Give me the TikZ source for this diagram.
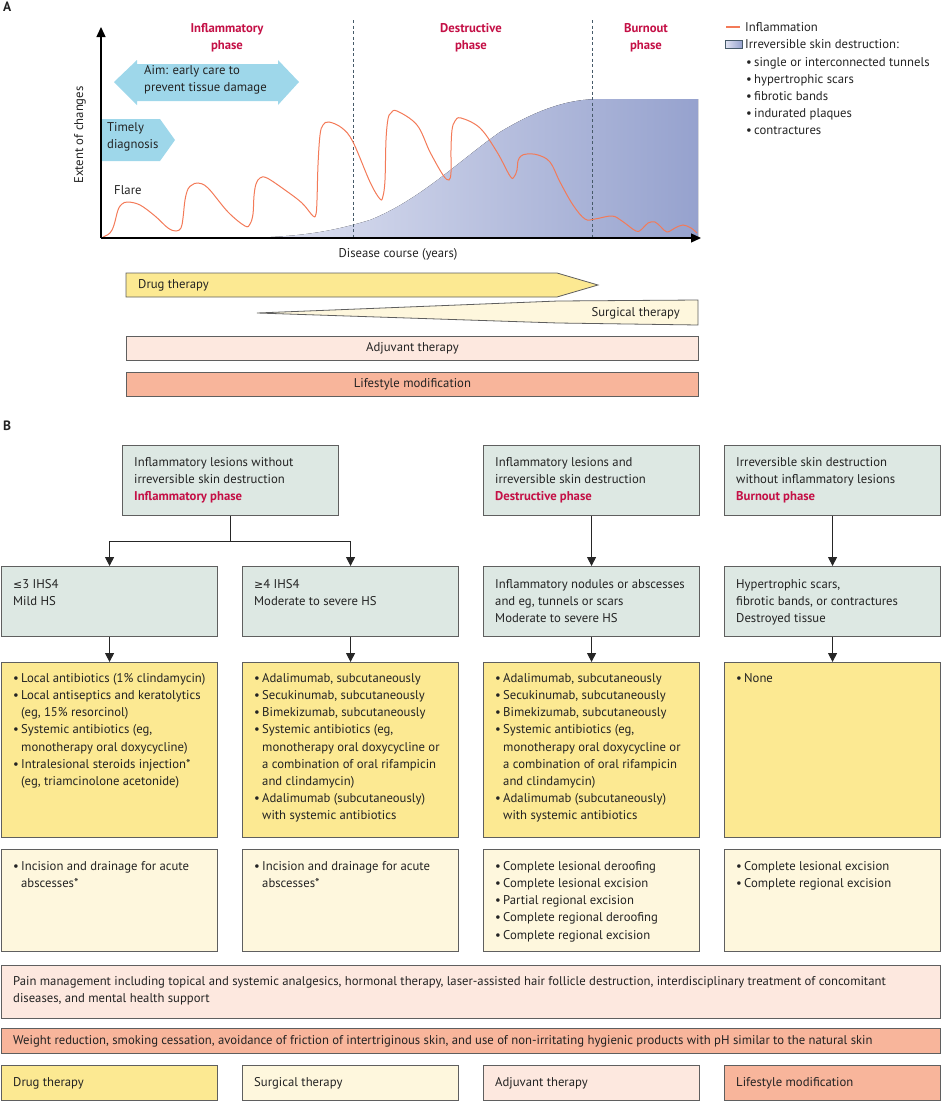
\documentclass[tikz,border=0pt]{standalone}
\usepackage{fontspec}
\setmainfont{PT Sans}
\newfontfamily\symf{DejaVu Sans}
\usetikzlibrary{arrows.meta,calc}
\definecolor{drugc}{RGB}{252,233,146}
\definecolor{surgc}{RGB}{254,247,221}
\definecolor{adjc}{RGB}{253,232,223}
\definecolor{lifec}{RGB}{248,181,155}
\definecolor{greenc}{RGB}{221,232,227}
\definecolor{bordc}{RGB}{95,95,95}
\definecolor{bluec}{RGB}{158,215,234}
\definecolor{orangec}{RGB}{243,122,88}
\definecolor{crim}{RGB}{196,16,70}
\definecolor{dashc}{RGB}{70,90,105}
\definecolor{shadeL}{RGB}{226,229,243}
\definecolor{shadeR}{RGB}{150,162,206}
\definecolor{txtc}{RGB}{35,35,35}
\newcommand{\bi}{\makebox[8pt][l]{\textbullet}}
\newcommand{\bc}{\hspace*{8pt}}
\newcommand{\ph}[1]{\textcolor{crim}{\textbf{#1}}}
\newcommand{\lesym}{{\symf\fontsize{11}{17.2}\selectfont ≤}}
\newcommand{\gesym}{{\symf\fontsize{11}{17.2}\selectfont ≥}}
\begin{document}
\begin{tikzpicture}[x=1pt,y=-1pt,
  font=\fontsize{12.7}{17.2}\selectfont,
  every node/.style={text=txtc},
  box/.style={draw=bordc, line width=1.1pt, anchor=north west, inner sep=0pt, minimum width=216pt},
  gbox/.style={box, fill=greenc, minimum height=70pt},
  dbox/.style={box, fill=drugc, minimum height=175pt},
  sbox/.style={box, fill=surgc, minimum height=102pt},
  lbox/.style={box, minimum height=35pt},
  txt/.style={anchor=north west, inner sep=0pt, align=left},
  conn/.style={line width=1pt, draw=black!85, -{Triangle[width=9pt,length=9pt]}},
  bar/.style={draw=bordc, line width=0.8pt},
  ]
\useasboundingbox (0,0) rectangle (941,1101);

% ---------------- Panel A ----------------
\node[anchor=north west, inner sep=0pt, font=\fontsize{13.5}{15}\selectfont\bfseries] (labA) at (3,2) {A};

% destruction area
\fill[left color=shadeL, right color=shadeR]
  (240,238) .. controls (300,237) and (330,232) .. (370,220)
  .. controls (420,200) and (460,160) .. (500,132)
  .. controls (540,108) and (570,99) .. (600,99) -- (698,99) -- (698,238) -- cycle;

% phase separators
\draw[dashc, line width=0.8pt, dash pattern=on 3pt off 2.5pt] (353,20) -- (353,238);
\draw[dashc, line width=0.8pt, dash pattern=on 3pt off 2.5pt] (592,20) -- (592,238);

% aim arrows
\fill[bluec] (114,82) -- (137,60) -- (137,64) -- (278,64) -- (278,60) -- (299,82) -- (278,105) -- (278,101) -- (137,101) -- (137,105) -- cycle;
\fill[bluec] (101,119) -- (160,119) -- (175,140) -- (160,161) -- (101,161) -- cycle;

% inflammation curve
\draw[orangec, line width=1pt, smooth, tension=0.6] plot coordinates {
(103,237) (110,233) (114,225) (118,210) (122,204) (128,202) (140,205) (155,216) (168,228) (176,231) (181,228) (183,218) (185,200) (188,189) (192,185) (198,183) (208,188) (228,212) (245,226) (250,224) (253,214) (254,196) (256,184) (260,178) (267,178) (285,190) (302,203) (313,216) (316,214) (317,200) (318,165) (320,135) (323,125) (329,122) (342,128) (353,142) (370,182) (380,199) (383,196) (385,180) (386,140) (388,119) (391,113) (397,111) (417,125) (430,152) (443,175) (449,180) (451,172) (451,150) (452,130) (455,121) (461,118) (480,128) (497,152) (510,176) (514,177) (517,170) (518,161) (521,156) (527,154) (538,155) (550,162) (560,182) (573,205) (585,219) (595,219) (612,216) (622,221) (636,231) (642,229) (648,223) (655,222) (661,227) (667,232) (675,228) (683,225) (691,228) (697,233)};

% axes
\coordinate (orig) at (101,238);
\coordinate (ytop) at (101,27);
\coordinate (xend) at (701,238);
\draw[line width=1.3pt, -{Triangle[width=9pt,length=10pt]}] (orig) -- (ytop);
\draw[line width=1.3pt, -{Triangle[width=9pt,length=10pt]}] (orig) -- (xend);

\node[rotate=90, inner sep=0pt] (ylab) at (80,135) {Extent of changes};
\node[inner sep=0pt] (xlab) at (398,254) {Disease course (years)};

\node[align=center, inner sep=0pt] (p1) at (227,38) {\ph{Inflammatory}\\\ph{phase}};
\node[align=center, inner sep=0pt] (p2) at (471,38) {\ph{Destructive}\\\ph{phase}};
\node[align=center, inner sep=0pt] (p3) at (646,38) {\ph{Burnout}\\\ph{phase}};

\node[txt] (aimt) at (144,65) {Aim: early care to\\prevent tissue damage};
\node[txt] (timt) at (107,122) {Timely\\diagnosis};
\node[anchor=base west, inner sep=0pt] (flare) at (114,194) {Flare};

% legend
\draw[orangec, line width=1.2pt] (726,27) -- (740,27);
\node[anchor=base west, inner sep=0pt] (lg1) at (745,31) {Inflammation};
\draw[left color=shadeL, right color=shadeR, draw=dashc, line width=0.9pt] (725,40) rectangle (742,48);
\node[anchor=base west, inner sep=0pt] (lg2) at (745,48) {Irreversible skin destruction:};
\node[txt] (lg3) at (746,57) {\bi single or interconnected tunnels\\\bi hypertrophic scars\\\bi fibrotic bands\\\bi indurated plaques\\\bi contractures};

% therapy bars
\draw[bar, fill=drugc] (126,273) -- (557,273) -- (598,285) -- (557,297) -- (126,297) -- cycle;
\node[anchor=west, inner sep=0pt] (bdrug) at (138,285) {Drug therapy};
\draw[bar, fill=surgc] (257,313) -- (558,301) -- (698,300) -- (698,325) -- (558,323) -- cycle;
\node[anchor=east, inner sep=0pt] (bsurg) at (680,313) {Surgical therapy};
\node[draw=bordc, line width=0.8pt, fill=adjc, anchor=north west, minimum width=572pt, minimum height=24pt, inner sep=0pt] (badj) at (126,336) {Adjuvant therapy};
\node[draw=bordc, line width=0.8pt, fill=lifec, anchor=north west, minimum width=572pt, minimum height=24pt, inner sep=0pt] (blife) at (126,372) {Lifestyle modification};

% ---------------- Panel B ----------------
\node[anchor=north west, inner sep=0pt, font=\fontsize{13.5}{15}\selectfont\bfseries] (labB) at (3,421) {B};

\node[gbox] (b1) at (122,445) {};
\node[gbox] (b2) at (483,445) {};
\node[gbox] (b3) at (724,445) {};
\node[txt] (b1t) at ($(b1.north west)+(12,12)$) {Inflammatory lesions without\\irreversible skin destruction\\\ph{Inflammatory phase}};
\node[txt] (b2t) at ($(b2.north west)+(12,12)$) {Inflammatory lesions and\\irreversible skin destruction\\\ph{Destructive phase}};
\node[txt] (b3t) at ($(b3.north west)+(12,12)$) {Irreversible skin destruction\\without inflammatory lesions\\\ph{Burnout phase}};

\node[gbox] (l2a) at (1,566) {};
\node[gbox] (l2b) at (242,566) {};
\node[gbox] (l2c) at (483,566) {};
\node[gbox] (l2d) at (724,566) {};
\node[txt] (l2at) at ($(l2a.north west)+(12,13)$) {\lesym3 IHS4\\Mild HS};
\node[txt] (l2bt) at ($(l2b.north west)+(12,13)$) {\gesym4 IHS4\\Moderate to severe HS};
\node[txt] (l2ct) at ($(l2c.north west)+(12,13)$) {Inflammatory nodules or abscesses\\and eg, tunnels or scars\\Moderate to severe HS};
\node[txt] (l2dt) at ($(l2d.north west)+(12,13)$) {Hypertrophic scars,\\fibrotic bands, or contractures\\Destroyed tissue};

\node[dbox] (l3a) at (1,662) {};
\node[dbox] (l3b) at (242,662) {};
\node[dbox] (l3c) at (483,662) {};
\node[dbox] (l3d) at (724,662) {};
\node[txt] (l3at) at ($(l3a.north west)+(12,11)$) {\bi Local antibiotics (1\% clindamycin)\\\bi Local antiseptics and keratolytics\\\bc (eg, 15\% resorcinol)\\\bi Systemic antibiotics (eg,\\\bc monotherapy oral doxycycline)\\\bi Intralesional steroids injection*\\\bc (eg, triamcinolone acetonide)};
\node[txt] (l3bt) at ($(l3b.north west)+(12,11)$) {\bi Adalimumab, subcutaneously\\\bi Secukinumab, subcutaneously\\\bi Bimekizumab, subcutaneously\\\bi Systemic antibiotics (eg,\\\bc monotherapy oral doxycycline or\\\bc a combination of oral rifampicin\\\bc and clindamycin)\\\bi Adalimumab (subcutaneously)\\\bc with systemic antibiotics};
\node[txt] (l3ct) at ($(l3c.north west)+(12,11)$) {\bi Adalimumab, subcutaneously\\\bi Secukinumab, subcutaneously\\\bi Bimekizumab, subcutaneously\\\bi Systemic antibiotics (eg,\\\bc monotherapy oral doxycycline or\\\bc a combination of oral rifampicin\\\bc and clindamycin)\\\bi Adalimumab (subcutaneously)\\\bc with systemic antibiotics};
\node[txt] (l3dt) at ($(l3d.north west)+(12,11)$) {\bi None};

\node[sbox] (l4a) at (1,849) {};
\node[sbox] (l4b) at (242,849) {};
\node[sbox] (l4c) at (483,849) {};
\node[sbox] (l4d) at (724,849) {};
\node[txt] (l4at) at ($(l4a.north west)+(12,12)$) {\bi Incision and drainage for acute\\\bc abscesses*};
\node[txt] (l4bt) at ($(l4b.north west)+(12,12)$) {\bi Incision and drainage for acute\\\bc abscesses*};
\node[txt] (l4ct) at ($(l4c.north west)+(12,12)$) {\bi Complete lesional deroofing\\\bi Complete lesional excision\\\bi Partial regional excision\\\bi Complete regional deroofing\\\bi Complete regional excision};
\node[txt] (l4dt) at ($(l4d.north west)+(12,12)$) {\bi Complete lesional excision\\\bi Complete regional excision};

\node[box, fill=adjc, minimum width=939pt, minimum height=53pt] (pain) at (1,965) {};
\node[txt] (paint) at ($(pain.north west)+(12,11)$) {Pain management including topical and systemic analgesics, hormonal therapy, laser-assisted hair follicle destruction, interdisciplinary treatment of concomitant\\diseases, and mental health support};
\node[box, fill=lifec, minimum width=939pt, minimum height=25pt] (life) at (1,1028) {};
\node[anchor=west, inner sep=0pt] (lifet) at ($(life.west)+(12,0)$) {Weight reduction, smoking cessation, avoidance of friction of intertriginous skin, and use of non-irritating hygienic products with pH similar to the natural skin};

\node[lbox, fill=drugc] (k1) at (1,1065) {};
\node[lbox, fill=surgc] (k2) at (242,1065) {};
\node[lbox, fill=adjc] (k3) at (483,1065) {};
\node[lbox, fill=lifec] (k4) at (724,1065) {};
\node[anchor=west, inner sep=0pt] (k1t) at ($(k1.west)+(12,0)$) {Drug therapy};
\node[anchor=west, inner sep=0pt] (k2t) at ($(k2.west)+(12,0)$) {Surgical therapy};
\node[anchor=west, inner sep=0pt] (k3t) at ($(k3.west)+(12,0)$) {Adjuvant therapy};
\node[anchor=west, inner sep=0pt] (k4t) at ($(k4.west)+(12,0)$) {Lifestyle modification};

% connectors
\draw[conn] (b1.south) -- ++(0,25) -| (l2a.north);
\draw[conn] (b1.south) -- ++(0,25) -| (l2b.north);
\draw[conn] (b2.south) -- (l2c.north);
\draw[conn] (b3.south) -- (l2d.north);
\draw[conn] (l2a.south) -- (l3a.north);
\draw[conn] (l2b.south) -- (l3b.north);
\draw[conn] (l2c.south) -- (l3c.north);
\draw[conn] (l2d.south) -- (l3d.north);
\end{tikzpicture}
\end{document}
